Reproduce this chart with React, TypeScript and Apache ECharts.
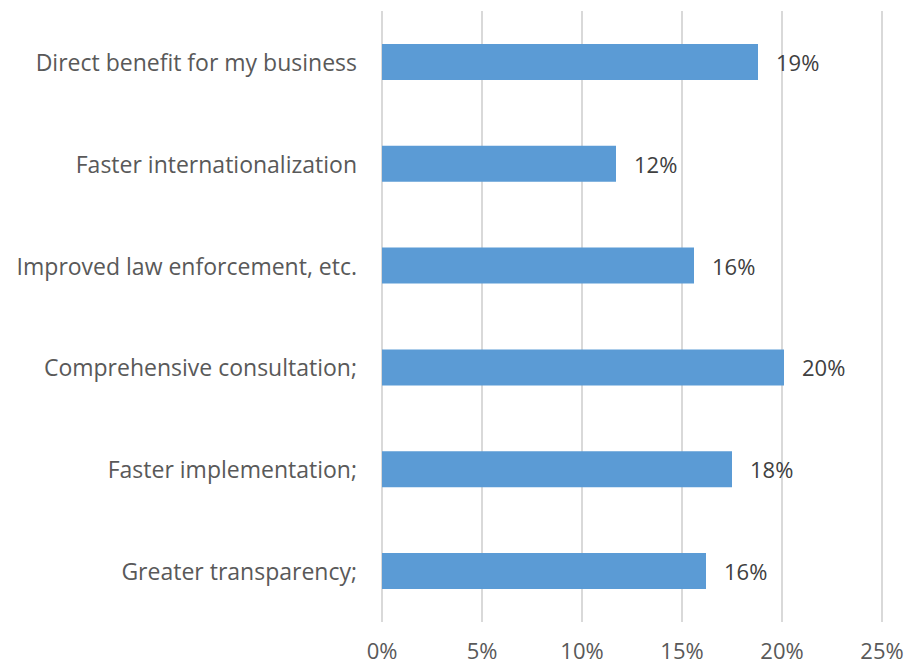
import React, { useEffect, useRef } from "react";
import * as echarts from "echarts";

const categories = [
  "Direct benefit for my business",
  "Faster internationalization",
  "Improved law enforcement, etc.",
  "Comprehensive consultation;",
  "Faster implementation;",
  "Greater transparency;",
];
const values = [18.8, 11.7, 15.6, 20.1, 17.5, 16.2];
const valueLabels = ["19%", "12%", "16%", "20%", "18%", "16%"];
const xTicks = [0, 5, 10, 15, 20, 25];

export default function App() {
  const ref = useRef<HTMLDivElement>(null);
  useEffect(() => {
    document.body.style.margin = "0";
    document.body.style.overflow = "hidden";
    const chart = echarts.init(ref.current!, null, { renderer: "svg" });
    const font = "'Open Sans', 'Noto Sans', sans-serif";
    chart.setOption({
      animation: false,
      grid: { left: 382, right: 26, top: 11, bottom: 44 },
      xAxis: {
        type: "value",
        min: xTicks[0],
        max: xTicks[xTicks.length - 1],
        interval: 5,
        axisLine: { show: false },
        axisTick: { show: false },
        splitLine: { lineStyle: { color: "#D9D9D9", width: 2 } },
        axisLabel: {
          formatter: (v: number) => v + "%",
          color: "#595959",
          fontSize: 22,
          lineHeight: 22,
          fontFamily: font,
          margin: 17,
        },
      },
      yAxis: {
        type: "category",
        data: categories,
        inverse: true,
        axisLine: { show: false },
        axisTick: { show: false },
        axisLabel: {
          color: "#595959",
          fontSize: 23,
          fontFamily: font,
          margin: 25,
        },
      },
      series: [
        {
          type: "bar",
          data: values,
          barWidth: 36,
          itemStyle: { color: "#5B9BD5" },
          label: {
            show: true,
            position: "right",
            distance: 18,
            color: "#404040",
            fontSize: 22,
            fontFamily: font,
            formatter: (p: any) => valueLabels[p.dataIndex],
          },
        },
      ],
    });
    return () => chart.dispose();
  }, []);
  return <div ref={ref} style={{ width: 908, height: 666 }} />;
}
